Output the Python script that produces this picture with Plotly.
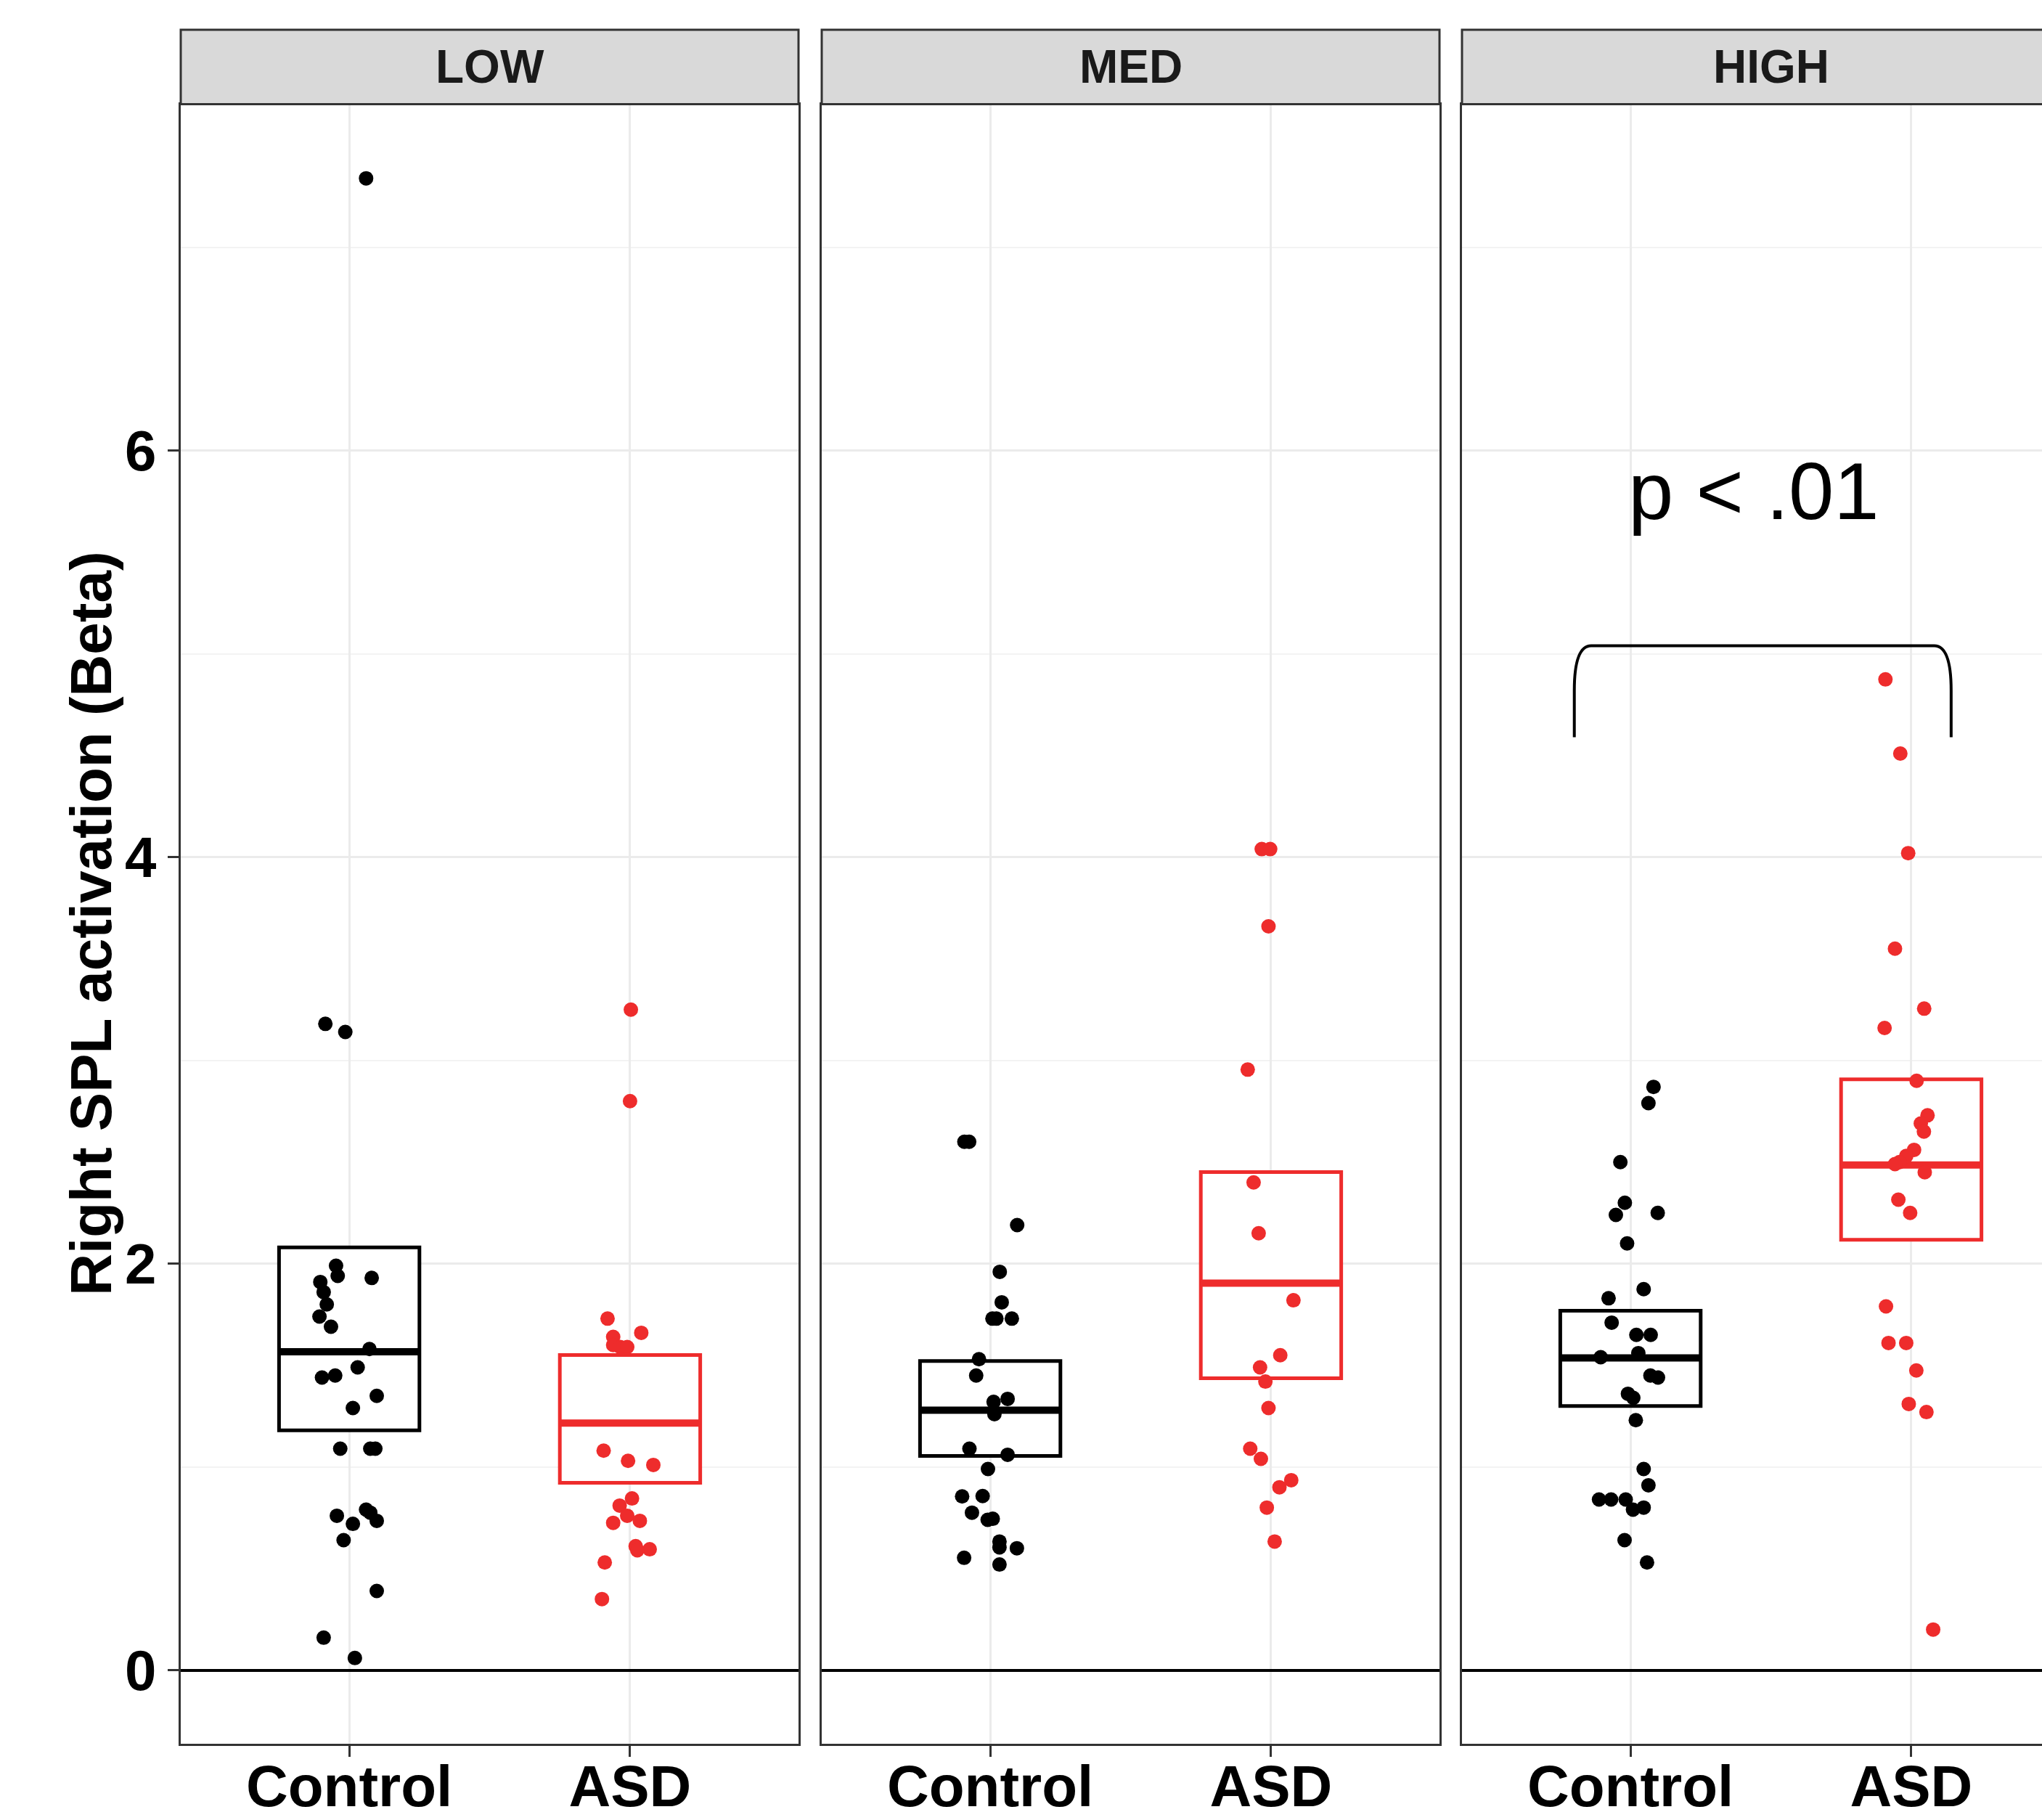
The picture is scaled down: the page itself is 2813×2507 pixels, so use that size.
import plotly.graph_objects as go

# ---------------- data ----------------
panels = ["LOW", "MED", "HIGH"]
groups = ["Control", "ASD"]
group_pos = [1, 2]
y_ticks = [0, 2, 4, 6]

low_control_y = [7.34, 3.18, 3.14, 1.99, 1.94, 1.93, 1.91, 1.86, 1.80, 1.74, 1.69, 1.58, 1.49, 1.44, 1.45,
                 1.35, 1.29, 1.09, 1.09, 1.09, 0.76, 0.79, 0.775, 0.72, 0.735, 0.64, 0.39, 0.16, 0.06]
low_control_jit = [0.06, -0.085, -0.014, -0.047, -0.041, 0.080, -0.103, -0.091, -0.080, -0.106, -0.065, 0.072,
                   0.030, -0.097, -0.050, 0.098, 0.013, -0.032, 0.075, 0.093, -0.044, 0.060, 0.075, 0.013, 0.098,
                   -0.020, 0.098, -0.091, 0.020]
low_asd_y = [3.25, 2.80, 1.73, 1.66, 1.64, 1.60, 1.59, 1.59, 1.08, 1.03, 1.01, 0.845, 0.81, 0.76, 0.725, 0.735,
             0.61, 0.595, 0.59, 0.53, 0.35]
low_asd_jit = [0.003, 0.0, -0.08, 0.04, -0.06, -0.06, -0.035, -0.01, -0.094, -0.007, 0.083, 0.007, -0.037, -0.01,
               -0.06, 0.035, 0.02, 0.07, 0.026, -0.09, -0.10]

med_control_y = [2.60, 2.60, 2.19, 1.96, 1.81, 1.73, 1.73, 1.73, 1.53, 1.45, 1.32, 1.335, 1.26, 1.09, 1.06, 0.99,
                 0.855, 0.857, 0.775, 0.74, 0.745, 0.633, 0.604, 0.60, 0.553, 0.52]
med_control_jit = [-0.092, -0.075, 0.096, 0.034, 0.041, 0.008, 0.022, 0.077, -0.040, -0.050, 0.012, 0.062, 0.015,
                   -0.074, 0.062, -0.008, -0.100, -0.027, -0.065, -0.009, 0.009, 0.033, 0.033, 0.095, -0.093, 0.033]
med_asd_y = [4.04, 4.04, 3.66, 2.955, 2.40, 2.15, 1.82, 1.55, 1.49, 1.42, 1.29, 1.09, 1.04, 0.935, 0.90, 0.80, 0.633]
med_asd_jit = [-0.033, -0.003, -0.009, -0.083, -0.062, -0.044, 0.080, 0.033, -0.039, -0.020, -0.009, -0.074,
               -0.036, 0.072, 0.030, -0.015, 0.013]

high_control_y = [2.87, 2.79, 2.50, 2.30, 2.24, 2.25, 2.10, 1.875, 1.83, 1.71, 1.65, 1.65, 1.54, 1.56, 1.45, 1.44,
                  1.36, 1.34, 1.23, 0.99, 0.91, 0.84, 0.84, 0.84, 0.79, 0.80, 0.64, 0.53]
high_control_jit = [0.082, 0.064, -0.036, -0.020, -0.052, 0.097, -0.012, 0.047, -0.078, -0.067, 0.021, 0.072,
                    -0.106, 0.028, 0.071, 0.098, -0.009, 0.010, 0.019, 0.047, 0.064, -0.112, -0.069, -0.017, 0.009,
                    0.047, -0.021, 0.059]
high_asd_y = [4.875, 4.51, 4.02, 3.55, 3.255, 3.16, 2.90, 2.73, 2.69, 2.65, 2.56, 2.53, 2.50, 2.49, 2.45, 2.315,
              2.25, 1.79, 1.61, 1.61, 1.475, 1.31, 1.27, 0.20]
high_asd_jit = [-0.092, -0.039, -0.011, -0.058, 0.046, -0.095, 0.019, 0.058, 0.034, 0.045, 0.010, -0.018, -0.042,
                -0.058, 0.048, -0.046, -0.004, -0.090, -0.081, -0.018, 0.018, -0.009, 0.054, 0.078]

# box stats (q1, median, q3) per panel: [Control, ASD]
box_q1 = {"LOW": [1.18, 0.922], "MED": [1.054, 1.436], "HIGH": [1.30, 2.118]}
box_median = {"LOW": [1.567, 1.216], "MED": [1.279, 1.904], "HIGH": [1.536, 2.486]}
box_q3 = {"LOW": [2.08, 1.551], "MED": [1.521, 2.451], "HIGH": [1.769, 2.907]}

points = {
    "LOW": [(low_control_y, low_control_jit), (low_asd_y, low_asd_jit)],
    "MED": [(med_control_y, med_control_jit), (med_asd_y, med_asd_jit)],
    "HIGH": [(high_control_y, high_control_jit), (high_asd_y, high_asd_jit)],
}

# significance annotation (HIGH panel)
sig_text = "p < .01"
sig_x, sig_y = 1.44, 5.80
bracket_x = [0.80, 2.142]
bracket_y = [4.59, 5.04]

# ---------------- styling ----------------
W, H = 2813, 2507
colors = ["#000000", "#EE2C2C"]
border = "#333333"
grid_major = "#EBEBEB"
grid_minor = "#F3F3F3"
FONT = "Liberation Sans, Arial, sans-serif"

px_left = [249, 1132, 2014]
px_panel_w = 851
unit_px = px_panel_w / 2.2
plot_top_px, plot_bot_px = 143.5, 2402
strip_top_px = 41
y_range = [-0.362, 7.705]
box_width = 0.5

fig = go.Figure()
shapes = []
annotations = []

for i, p in enumerate(panels):
    xa = "x" if i == 0 else f"x{i+1}"
    ya = "y" if i == 0 else f"y{i+1}"
    for g in range(2):
        pos = group_pos[g]
        fig.add_trace(go.Box(
            x=[pos], q1=[box_q1[p][g]], median=[box_median[p][g]], q3=[box_q3[p][g]],
            lowerfence=[box_q1[p][g]], upperfence=[box_q3[p][g]],
            width=box_width, whiskerwidth=0, fillcolor="white",
            line=dict(color=colors[g], width=5), boxpoints=False,
            xaxis=xa, yaxis=ya, showlegend=False, hoverinfo="skip"))
        fig.add_trace(go.Scatter(
            x=[pos - box_width / 2, pos + box_width / 2],
            y=[box_median[p][g], box_median[p][g]],
            mode="lines", line=dict(color=colors[g], width=10),
            xaxis=xa, yaxis=ya, showlegend=False, hoverinfo="skip"))
        yv, jit = points[p][g]
        fig.add_trace(go.Scatter(
            x=[pos + j for j in jit], y=yv, mode="markers",
            marker=dict(color=colors[g], size=20, line=dict(width=0)),
            xaxis=xa, yaxis=ya, showlegend=False, hoverinfo="skip"))

    x0 = px_left[i] / W
    x1 = min((px_left[i] + px_panel_w) / W, 1.0)
    xmax = 0.4 + (x1 * W - px_left[i]) / unit_px
    dom_y = [1 - plot_bot_px / H, 1 - plot_top_px / H]
    xkey = "xaxis" if i == 0 else f"xaxis{i+1}"
    ykey = "yaxis" if i == 0 else f"yaxis{i+1}"
    fig.update_layout({
        xkey: dict(domain=[x0, x1], range=[0.4, xmax], anchor=ya, automargin=False,
                   tickmode="array", tickvals=group_pos, ticktext=groups,
                   ticks="outside", ticklen=15, tickwidth=3, tickcolor=border,
                   ticklabelstandoff=-28,
                   tickfont=dict(family=FONT, size=80, color="black", weight="bold"),
                   showgrid=True, gridcolor=grid_major, gridwidth=2.5,
                   showline=True, mirror=True, linecolor=border, linewidth=3,
                   zeroline=False, fixedrange=True),
        ykey: dict(domain=dom_y, range=y_range, anchor=xa, automargin=False,
                   tickmode="array", tickvals=y_ticks,
                   showticklabels=(i == 0), ticks="outside" if i == 0 else "",
                   ticklen=15, tickwidth=3, tickcolor=border,
                   tickfont=dict(family=FONT, size=78, color="black", weight="bold"),
                   showgrid=True, gridcolor=grid_major, gridwidth=2.5,
                   minor=dict(dtick=1, tick0=0, showgrid=True, gridcolor=grid_minor, gridwidth=1.5, ticks=""),
                   zeroline=True, zerolinecolor="black", zerolinewidth=4,
                   showline=True, mirror=(i != 2), linecolor=border, linewidth=3,
                   fixedrange=True),
    })
    # strip
    sx1 = (px_left[i] + px_panel_w) / W if i < 2 else 1.02
    shapes.append(dict(type="rect", xref="paper", yref="paper",
                       x0=x0, x1=sx1, y0=1 - plot_top_px / H, y1=1 - strip_top_px / H,
                       fillcolor="#D9D9D9", line=dict(color=border, width=3), layer="above"))
    annotations.append(dict(xref="paper", yref="paper",
                            x=(px_left[i] + px_panel_w / 2) / W,
                            y=1 - (plot_top_px + strip_top_px) / 2 / H,
                            text=p, showarrow=False, xanchor="center", yanchor="middle",
                            font=dict(family=FONT, size=64, color="#1A1A1A", weight="bold")))

# bracket + p-value in HIGH panel
bx0, bx1 = bracket_x
by0, by1 = bracket_y
r = 0.06
path = (f"M{bx0},{by0} L{bx0},{by1 - 0.22} Q{bx0},{by1} {bx0 + r},{by1} "
        f"L{bx1 - r},{by1} Q{bx1},{by1} {bx1},{by1 - 0.22} L{bx1},{by0}")
shapes.append(dict(type="path", xref="x3", yref="y3", path=path,
                   line=dict(color="black", width=4)))
annotations.append(dict(xref="x3", yref="y3", x=sig_x, y=sig_y, text=sig_text, showarrow=False,
                        xanchor="center", yanchor="middle",
                        font=dict(family=FONT, size=112, color="black")))

# y-axis title
annotations.append(dict(xref="paper", yref="paper", x=126 / W,
                        y=1 - (plot_top_px + plot_bot_px) / 2 / H,
                        text="Right SPL activation (Beta)", textangle=-90, showarrow=False,
                        xanchor="center", yanchor="middle",
                        font=dict(family=FONT, size=80, color="black", weight="bold")))

fig.update_layout(width=W, height=H, autosize=False,
                  margin=dict(l=0, r=0, t=0, b=0, autoexpand=False),
                  paper_bgcolor="white", plot_bgcolor="white",
                  shapes=shapes, annotations=annotations, showlegend=False)

fig.write_html("out.html", config={"displayModeBar": False},
               post_script="document.body.style.margin='0px';")
